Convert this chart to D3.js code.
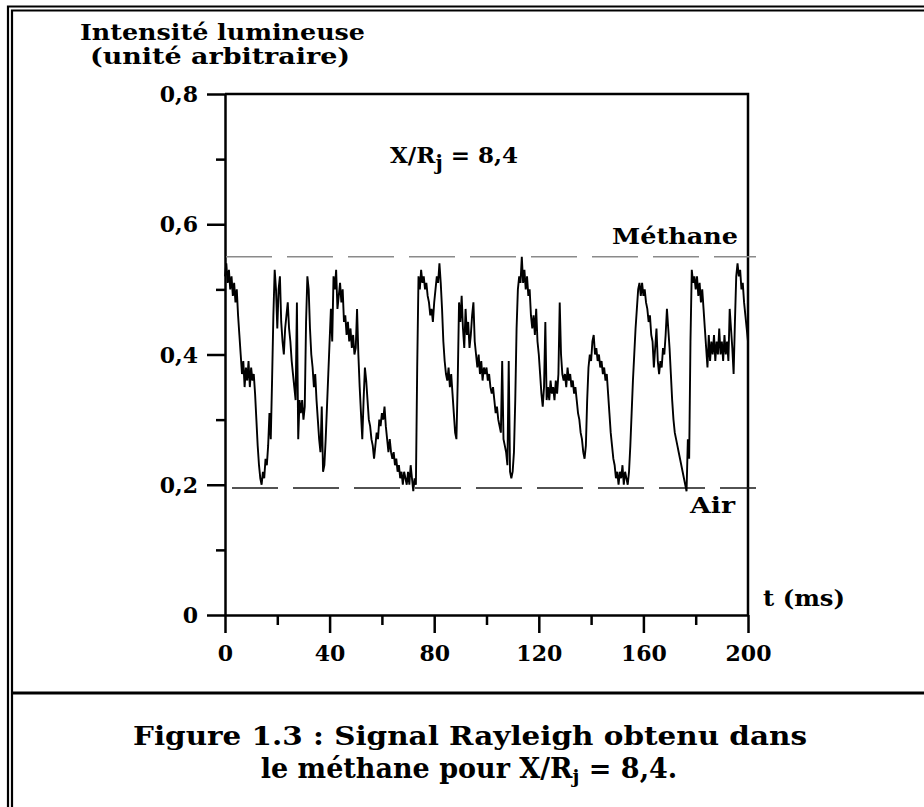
<!DOCTYPE html>
<meta charset="utf-8">
<style>
body { margin: 0; background: #fff; }
svg text { font-family: "DejaVu Serif", serif; font-weight: bold; fill: #000; }
.axis path, .axis line { stroke: #000; stroke-width: 2.5px; }
.axis text { font-size: 22px; font-family: "DejaVu Serif", serif; font-weight: bold; }
</style>
<svg width="924" height="807"></svg>
<script src="https://cdn.jsdelivr.net/npm/d3@7"></script>
<script>
// sampling step of the signal (ms)
var dt = 0.5;

// Rayleigh signal, one value every 0.5 ms from 0 to 200 ms
var signal = [
  0.52,0.54,0.51,0.53,0.50,0.52,0.49,0.51,0.48,0.50,0.46,0.43,0.40,0.37,0.39,0.35,0.38,0.36,0.39,0.35,
  0.38,0.36,0.37,0.34,0.30,0.26,0.23,0.21,0.20,0.22,0.21,0.24,0.23,0.26,0.31,0.27,0.36,0.46,0.53,0.50,
  0.44,0.50,0.52,0.45,0.42,0.40,0.44,0.46,0.48,0.44,0.42,0.39,0.37,0.35,0.33,0.48,0.27,0.33,0.31,0.33,
  0.30,0.32,0.45,0.52,0.50,0.44,0.40,0.38,0.35,0.37,0.33,0.30,0.27,0.25,0.32,0.22,0.23,0.27,0.32,0.37,
  0.42,0.47,0.42,0.52,0.50,0.53,0.47,0.49,0.51,0.48,0.50,0.45,0.46,0.43,0.45,0.42,0.44,0.41,0.43,0.40,
  0.41,0.47,0.40,0.35,0.31,0.27,0.33,0.38,0.36,0.33,0.30,0.29,0.27,0.26,0.24,0.26,0.28,0.27,0.30,0.29,
  0.31,0.30,0.32,0.29,0.27,0.25,0.27,0.25,0.24,0.25,0.23,0.24,0.22,0.23,0.21,0.22,0.20,0.22,0.21,0.20,
  0.22,0.20,0.23,0.21,0.19,0.21,0.20,0.38,0.52,0.50,0.53,0.51,0.52,0.50,0.51,0.49,0.48,0.46,0.47,0.45,
  0.48,0.50,0.52,0.51,0.54,0.51,0.47,0.42,0.39,0.37,0.36,0.38,0.35,0.37,0.34,0.31,0.28,0.27,0.36,0.48,
  0.45,0.49,0.44,0.41,0.47,0.43,0.45,0.41,0.43,0.46,0.48,0.42,0.40,0.38,0.40,0.37,0.39,0.36,0.38,0.37,
  0.38,0.36,0.37,0.35,0.34,0.35,0.33,0.31,0.32,0.30,0.29,0.28,0.39,0.27,0.26,0.25,0.23,0.39,0.22,0.21,
  0.22,0.25,0.33,0.44,0.50,0.52,0.51,0.55,0.51,0.53,0.50,0.52,0.49,0.50,0.46,0.44,0.46,0.43,0.47,0.42,
  0.40,0.37,0.34,0.32,0.35,0.45,0.33,0.35,0.33,0.36,0.34,0.35,0.33,0.36,0.34,0.37,0.48,0.40,0.37,0.36,
  0.37,0.35,0.38,0.36,0.37,0.35,0.36,0.34,0.35,0.33,0.31,0.30,0.28,0.27,0.25,0.24,0.26,0.33,0.38,0.40,
  0.39,0.42,0.43,0.40,0.41,0.39,0.40,0.38,0.39,0.37,0.38,0.36,0.37,0.34,0.31,0.28,0.26,0.24,0.23,0.21,
  0.22,0.20,0.22,0.21,0.23,0.20,0.22,0.21,0.20,0.22,0.26,0.31,0.36,0.40,0.44,0.47,0.50,0.51,0.49,0.51,
  0.49,0.50,0.48,0.47,0.45,0.46,0.43,0.42,0.38,0.41,0.44,0.39,0.37,0.39,0.38,0.41,0.40,0.43,0.47,0.44,
  0.41,0.37,0.33,0.30,0.28,0.27,0.26,0.25,0.24,0.23,0.22,0.21,0.20,0.19,0.27,0.24,0.42,0.53,0.51,0.52,
  0.50,0.52,0.49,0.51,0.48,0.50,0.47,0.44,0.41,0.38,0.43,0.39,0.42,0.40,0.43,0.39,0.42,0.40,0.44,0.40,
  0.42,0.39,0.43,0.40,0.42,0.39,0.47,0.44,0.41,0.37,0.45,0.52,0.54,0.52,0.53,0.50,0.51,0.48,0.46,0.44,
  0.42
];

// reference levels (dashed lines)
var levelNames = ["Méthane", "Air"];
var levelValues = [0.55, 0.195];

var xMajor = [0, 40, 80, 120, 160, 200];
var xMinor = [20, 60, 100, 140, 180];
var yMajor = [0, 0.2, 0.4, 0.6, 0.8];
var yMinor = [0.1, 0.3, 0.5, 0.7];

var svg = d3.select("svg");

var x = d3.scaleLinear().domain([0, 200]).range([225, 748]);
var y = d3.scaleLinear().domain([0, 0.8]).range([615, 94]);
var fmt = function(d) { return d === 0 ? "0" : d3.format(".1f")(d).replace(".", ","); };

// page frame (double rule on the left and top, separator above the caption)
var frame = svg.append("g").attr("stroke", "#000").attr("fill", "none");
frame.append("path").attr("stroke-width", 2.2).attr("d", "M8,807V6.5H924");
frame.append("path").attr("stroke-width", 2.2).attr("d", "M12,807V10.5H924");
frame.append("line").attr("stroke-width", 2.8)
  .attr("x1", 12).attr("x2", 924).attr("y1", 693).attr("y2", 693);

// minor ticks
svg.append("g").attr("class", "axis")
  .attr("transform", "translate(0,615)")
  .call(d3.axisBottom(x).tickValues(xMinor).tickSize(10).tickFormat("").tickSizeOuter(0))
  .select(".domain").remove();
svg.append("g").attr("class", "axis")
  .attr("transform", "translate(225,0)")
  .call(d3.axisLeft(y).tickValues(yMinor).tickSize(9).tickFormat("").tickSizeOuter(0))
  .select(".domain").remove();

// major ticks + labels
var xAxis = svg.append("g").attr("class", "axis")
  .attr("transform", "translate(0,615)")
  .call(d3.axisBottom(x).tickValues(xMajor).tickSize(18).tickSizeOuter(0).tickPadding(12));
var yAxis = svg.append("g").attr("class", "axis")
  .attr("transform", "translate(225,0)")
  .call(d3.axisLeft(y).tickValues(yMajor).tickSize(18).tickSizeOuter(0).tickPadding(9).tickFormat(fmt));
yAxis.selectAll("text").attr("dy", "0.35em");

// top and right edges of the box
svg.append("path").attr("fill", "none").attr("stroke", "#000").attr("stroke-width", 2.5)
  .attr("d", "M" + x(0) + "," + y(0.8) + "H" + x(200) + "V" + y(0));

// dashed reference levels
var levelColors = ["#8a8a8a", "#1a1a1a"];
var levelStart = [226, 232];
svg.selectAll(".level").data(levelValues).enter().append("line")
  .attr("class", "level")
  .attr("x1", function(d, i) { return levelStart[i]; })
  .attr("x2", x(200) + 8)
  .attr("y1", function(d) { return y(d); })
  .attr("y2", function(d) { return y(d); })
  .attr("stroke", function(d, i) { return levelColors[i]; })
  .attr("stroke-width", 1.4)
  .attr("stroke-dasharray", "46,15");

// signal
var line = d3.line()
  .x(function(d, i) { return x(i * dt); })
  .y(function(d) { return y(d); });
svg.append("path").datum(signal)
  .attr("fill", "none")
  .attr("stroke", "#000")
  .attr("stroke-width", 1.9)
  .attr("stroke-linejoin", "miter")
  .attr("d", line);

// texts (widths stretched to the original, wider typeface)
function label(px, py, size, w, str, anchor) {
  return svg.append("text").attr("x", px).attr("y", py).attr("font-size", size)
    .attr("text-anchor", anchor || "start")
    .attr("textLength", w).attr("lengthAdjust", "spacingAndGlyphs").text(str);
}
label(80, 40, 22, 285, "Intensité lumineuse");
label(90, 64, 22, 260, "(unité arbitraire)");

var xr = svg.append("text").attr("x", 390).attr("y", 163).attr("font-size", 23);
xr.append("tspan").text("X/R");
xr.append("tspan").attr("dy", 7).attr("font-size", 20).text("j");
xr.append("tspan").attr("dy", -7).text(" = 8,4");

label(612, 244, 22, 126, levelNames[0]);
label(690, 513, 22, 45, levelNames[1]);
label(763, 606, 22, 82, "t (ms)");

label(133, 745, 26, 674, "Figure 1.3 : Signal Rayleigh obtenu dans");
var cap2 = svg.append("text").attr("x", 469).attr("y", 778).attr("font-size", 27)
  .attr("text-anchor", "middle");
cap2.append("tspan").text("le méthane pour X/R");
cap2.append("tspan").attr("font-size", 19).attr("dy", 5).text("j");
cap2.append("tspan").attr("dy", -5).text(" = 8,4.");
</script>
